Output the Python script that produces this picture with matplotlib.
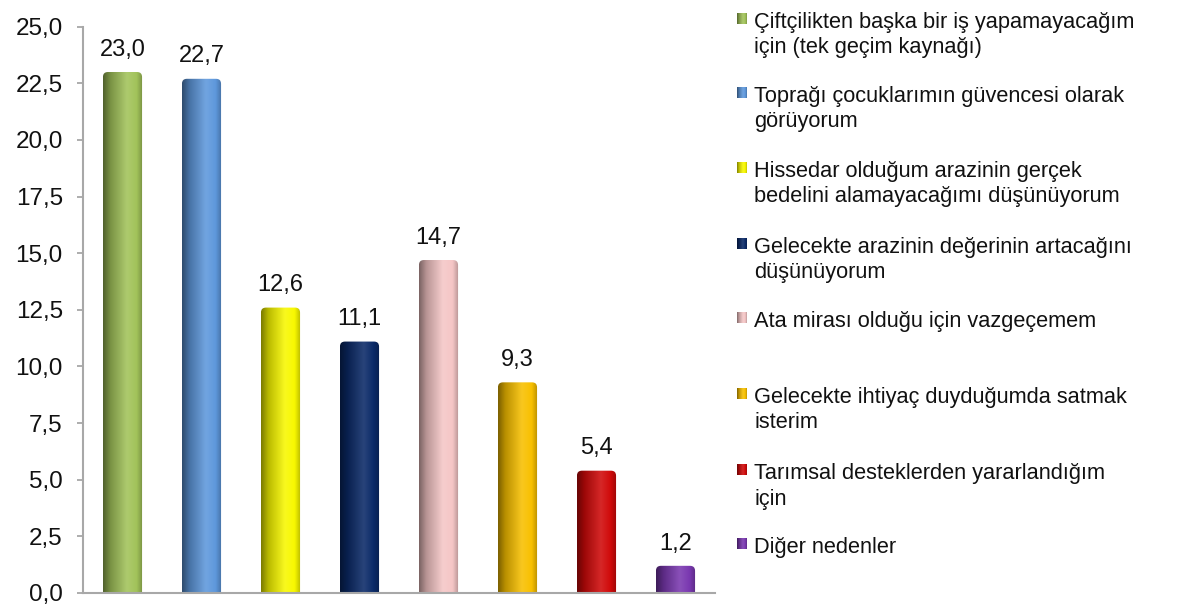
import numpy as np
import matplotlib
matplotlib.use("Agg")
import matplotlib.pyplot as plt
from matplotlib.colors import LinearSegmentedColormap, to_rgb
from matplotlib.patches import FancyBboxPatch
from matplotlib.ticker import FuncFormatter

plt.rcParams["font.family"] = ["Liberation Sans", "DejaVu Sans"]

# data
labels = [
    "Çiftçilikten başka bir iş yapamayacağım\niçin (tek geçim kaynağı)",
    "Toprağı çocuklarımın güvencesi olarak\ngörüyorum",
    "Hissedar olduğum arazinin gerçek\nbedelini alamayacağımı düşünüyorum",
    "Gelecekte arazinin değerinin artacağını\ndüşünüyorum",
    "Ata mirası olduğu için vazgeçemem",
    "Gelecekte ihtiyaç duyduğumda satmak\nisterim",
    "Tarımsal desteklerden yararlandığım\niçin",
    "Diğer nedenler",
]
values = [23.0, 22.7, 12.6, 11.1, 14.7, 9.3, 5.4, 1.2]
colors = ["#A2C35A", "#5E98DC", "#F8F800", "#0B2A68",
          "#F5C6C6", "#F8C000", "#D00A0A", "#7A38B0"]
yticks = [0, 2.5, 5, 7.5, 10, 12.5, 15, 17.5, 20, 22.5, 25]

# legend layout: baseline (figure pixel row) of each entry's first line
legend_base = [28, 102, 177, 253, 327, 403, 479, 553]
line_gap = 25.5

W, H = 1180, 608
fig = plt.figure(figsize=(W / 100, H / 100), dpi=100)
ax = fig.add_axes([83 / W, 1 - 593 / H, (715 - 83) / W, (593 - 26.7) / H])

x = np.arange(len(values))
bars = ax.bar(x, values, width=0.495, color="none", edgecolor="none")


def shade_cmap(c):
    r, g, b = to_rgb(c)
    prof = [(0.0, 0.5), (0.18, 0.75), (0.6, 1.12), (0.85, 1.0), (1.0, 0.75)]
    cols = []
    for pos, f in prof:
        if f <= 1:
            cols.append((pos, (r * f, g * f, b * f)))
        else:
            k = f - 1
            cols.append((pos, (r + (1 - r) * k, g + (1 - g) * k, b + (1 - b) * k)))
    return LinearSegmentedColormap.from_list("s", cols)


ax.set_xlim(-0.5, 7.5)
ax.set_ylim(0, 25)

# px per data unit, to round the bar tops evenly
px_x = (715 - 83) / 8.0
px_y = (593 - 26.7) / 25.0
rad = 5.0 / px_x

grad = np.linspace(0, 1, 64).reshape(1, -1)
for b, c in zip(bars, colors):
    x0, w, h = b.get_x(), b.get_width(), b.get_height()
    shape = FancyBboxPatch((x0, -1.0), w, h + 1.0,
                           boxstyle=f"round,pad=0,rounding_size={rad}",
                           mutation_aspect=px_x / px_y,
                           transform=ax.transData, facecolor="none",
                           edgecolor="none")
    ax.add_patch(shape)
    im = ax.imshow(grad, cmap=shade_cmap(c), aspect="auto",
                   extent=(x0, x0 + w, 0, h), zorder=2, interpolation="bicubic")
    im.set_clip_path(shape)

ax.set_xlim(-0.5, 7.5)
ax.set_ylim(0, 25)

for xi, v in zip(x, values):
    ax.text(xi, v + 0.72, f"{v:.1f}".replace(".", ","), ha="center",
            va="baseline", fontsize=17, color="#111111")

ax.set_yticks(yticks)
ax.yaxis.set_major_formatter(FuncFormatter(lambda v, p: f"{v:.1f}".replace(".", ",")))
ax.set_xticks([])
ax.tick_params(axis="y", labelsize=17.5, length=4.5, width=1.2, color="#A0A0A0",
               labelcolor="#111111", pad=10)
for s in ("top", "right"):
    ax.spines[s].set_visible(False)
for s in ("left", "bottom"):
    ax.spines[s].set_color("#A8A8A8")
    ax.spines[s].set_linewidth(1.5)

# legend
for lab, lb, c in zip(labels, legend_base, colors):
    top = lb - 15
    mk = fig.add_axes([737 / W, 1 - (top + 11) / H, 10 / W, 11 / H])
    mk.imshow(grad, cmap=shade_cmap(c), aspect="auto", interpolation="bicubic")
    mk.set_axis_off()
    for i, line in enumerate(lab.split("\n")):
        fig.text(754 / W, 1 - (lb + i * line_gap) / H, line, ha="left",
                 va="baseline", fontsize=15.7, color="#111111")

fig.savefig("out.png", dpi=100)
